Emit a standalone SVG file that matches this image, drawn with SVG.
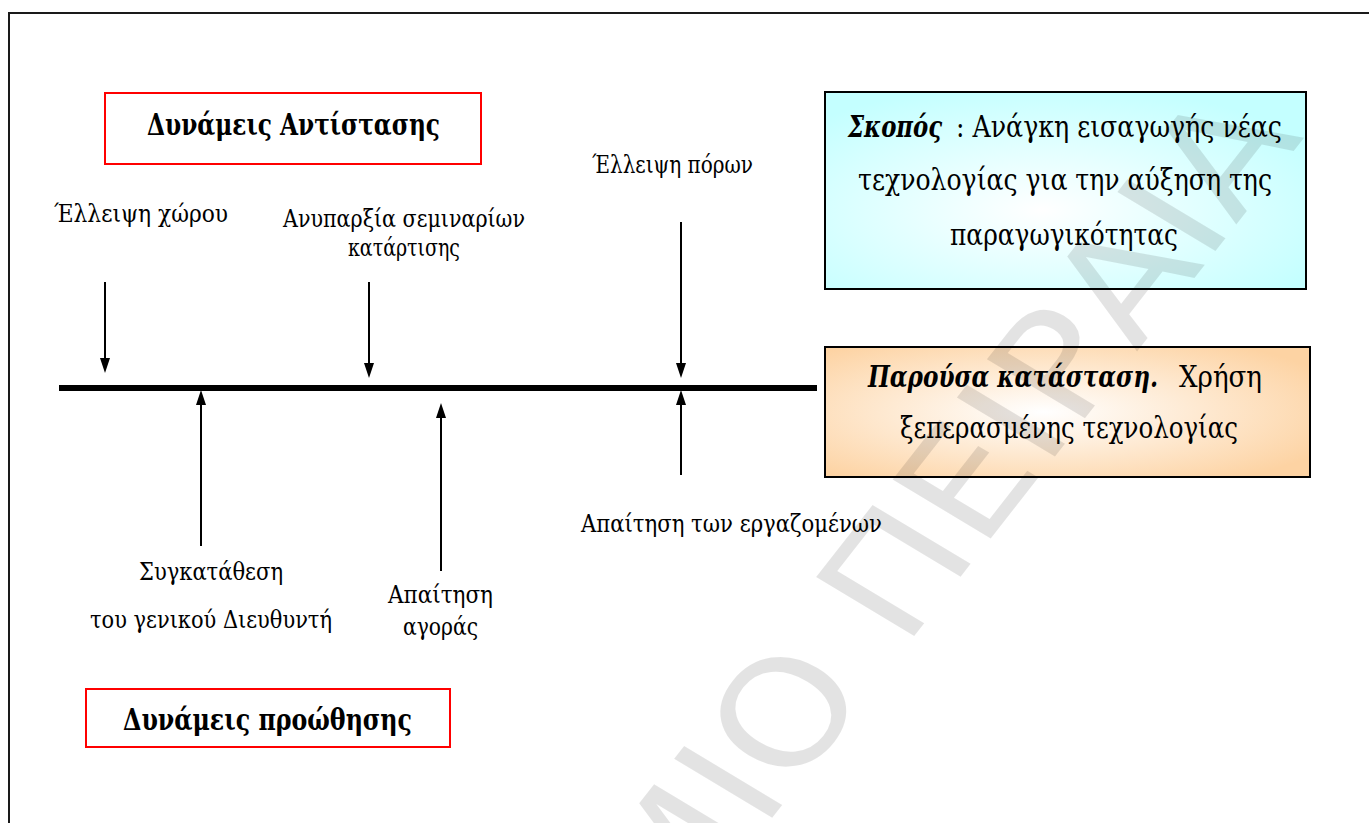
<svg xmlns="http://www.w3.org/2000/svg" width="1369" height="823" viewBox="0 0 1369 823">
<defs>
<radialGradient id="gCyan" cx="0.45" cy="0.6" r="0.65">
<stop offset="0" stop-color="#ffffff"/>
<stop offset="1" stop-color="#c4ffff"/>
</radialGradient>
<radialGradient id="gPeach" cx="0.45" cy="0.5" r="0.65">
<stop offset="0" stop-color="#ffffff"/>
<stop offset="1" stop-color="#fdd3a3"/>
</radialGradient>
<marker id="ah" markerUnits="userSpaceOnUse" markerWidth="15" markerHeight="10" refX="3" refY="5" orient="auto">
<path d="M0,0 L15,5 L0,10 z" fill="#000"/>
</marker>
<style>
.lbl{font-size:25px}
.ttl{font-size:30px;font-weight:bold}
.box{font-size:30px}
.bi{font-weight:bold;font-style:italic}
.red{fill:#fff;stroke:#ff0000;stroke-width:2}
.blk{stroke:#000;stroke-width:2}
.arr{stroke:#000;stroke-width:2;fill:none;marker-end:url(#ah)}
.wm{font-size:157px;fill:#000;fill-opacity:0.11}
</style>
</defs>
<rect x="0" y="0" width="1369" height="823" fill="#fff"/>
<rect x="9" y="13" width="1420" height="900" fill="none" stroke="#1a1a1a" stroke-width="2"/>

<g id="connectors">
<line x1="59" y1="388" x2="817" y2="388" stroke="#000" stroke-width="6"/>
<line class="arr" x1="105" y1="282" x2="105" y2="361"/>
<line class="arr" x1="369" y1="282" x2="369" y2="366"/>
<line class="arr" x1="681" y1="222" x2="681" y2="366"/>
<line class="arr" x1="201" y1="546" x2="201" y2="402"/>
<line class="arr" x1="441" y1="571" x2="441" y2="415"/>
<line class="arr" x1="681" y1="475" x2="681" y2="402"/>
</g>

<g id="resist-title">
<rect class="red" x="105" y="93" width="376" height="71"/>
</g>
<g id="push-title">
<rect class="red" x="86" y="689" width="364" height="58"/>
</g>
<g id="goal">
<rect class="blk" x="825" y="92" width="481" height="197" fill="url(#gCyan)"/>
</g>
<g id="current">
<rect class="blk" x="825" y="347" width="485" height="130" fill="url(#gPeach)"/>
</g>

<text class="wm" font-family="DejaVu Sans, sans-serif" transform="matrix(0.647 -0.827 0.857 0.515 780 716)" x="736" y="57" text-anchor="end">ΠΑΝΕΠΙΣΤΗΜΙΟ ΠΕΙΡΑΙΑ</text>

<g font-family="DejaVu Serif, serif" fill="#000">
<g id="resist-title-text"><text class="ttl" x="147" y="135" textLength="293" lengthAdjust="spacingAndGlyphs">Δυνάμεις Αντίστασης</text></g>
<g id="push-title-text"><text class="ttl" x="123" y="730" textLength="289" lengthAdjust="spacingAndGlyphs">Δυνάμεις προώθησης</text></g>

<g id="goal-text">
<text class="box" y="137"><tspan class="bi" x="848" textLength="94" lengthAdjust="spacingAndGlyphs">Σκοπός</tspan><tspan x="956" textLength="326" lengthAdjust="spacingAndGlyphs">: Ανάγκη εισαγωγής νέας</tspan></text>
<text class="box" x="858" y="190" textLength="414" lengthAdjust="spacingAndGlyphs">τεχνολογίας για την αύξηση της</text>
<text class="box" x="950" y="245" textLength="228" lengthAdjust="spacingAndGlyphs">παραγωγικότητας</text>
</g>
<g id="current-text">
<text class="box" y="387"><tspan class="bi" x="868" textLength="290" lengthAdjust="spacingAndGlyphs">Παρούσα κατάσταση.</tspan><tspan x="1179" textLength="83" lengthAdjust="spacingAndGlyphs">Χρήση</tspan></text>
<text class="box" x="900" y="438" textLength="338" lengthAdjust="spacingAndGlyphs">ξεπερασμένης τεχνολογίας</text>
</g>

<g id="n-space"><text class="lbl" x="54" y="222" textLength="174" lengthAdjust="spacingAndGlyphs">Έλλειψη χώρου</text></g>
<g id="n-seminars">
<text class="lbl" x="283" y="227" textLength="242" lengthAdjust="spacingAndGlyphs">Ανυπαρξία σεμιναρίων</text>
<text class="lbl" x="348" y="256" textLength="112" lengthAdjust="spacingAndGlyphs">κατάρτισης</text>
</g>
<g id="n-resources"><text class="lbl" x="592" y="173" textLength="161" lengthAdjust="spacingAndGlyphs">Έλλειψη πόρων</text></g>
<g id="n-consent">
<text class="lbl" x="139" y="580" textLength="144" lengthAdjust="spacingAndGlyphs">Συγκατάθεση</text>
<text class="lbl" x="90" y="628" textLength="242" lengthAdjust="spacingAndGlyphs">του γενικού Διευθυντή</text>
</g>
<g id="n-market">
<text class="lbl" x="388" y="603" textLength="105" lengthAdjust="spacingAndGlyphs">Απαίτηση</text>
<text class="lbl" x="403" y="635" textLength="75" lengthAdjust="spacingAndGlyphs">αγοράς</text>
</g>
<g id="n-workers"><text class="lbl" x="581" y="532" textLength="301" lengthAdjust="spacingAndGlyphs">Απαίτηση των εργαζομένων</text></g>
</g>
</svg>
